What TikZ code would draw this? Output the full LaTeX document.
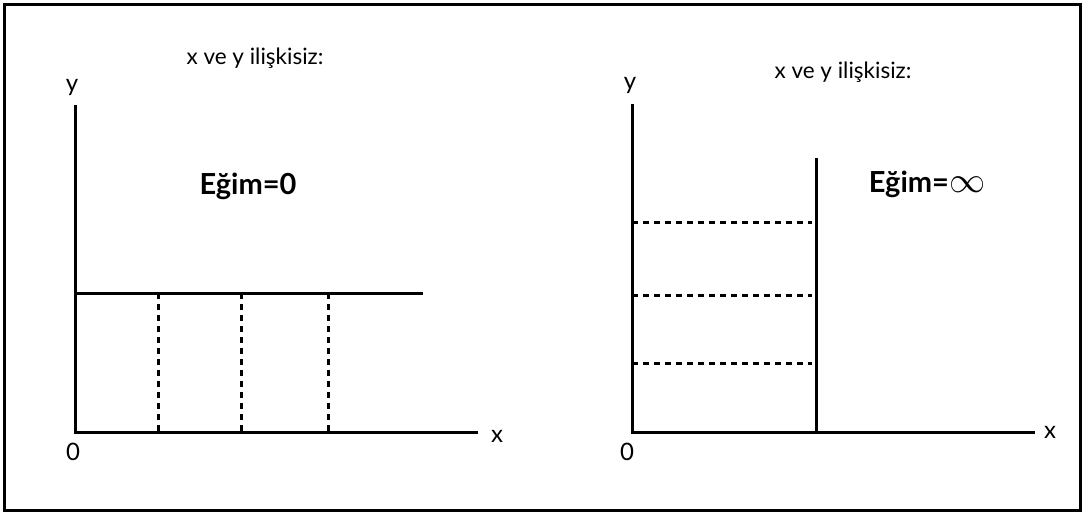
\documentclass[tikz,border=0pt]{standalone}
\usepackage{amsmath,amssymb}
\usepackage{graphicx}
\usepackage{fontspec}
\setmainfont{Lato}
\usepackage{tikz}
\usetikzlibrary{arrows.meta,calc}

\tikzset{
  axis/.style={line width=3pt},
  dashline/.style={line width=3pt,dash pattern=on 6pt off 5pt},
  lbl/.style={font=\fontsize{24}{28}\selectfont,inner sep=0pt},
  ttl/.style={font=\fontsize{22.5}{26}\selectfont,inner sep=0pt},
  slope/.style={font=\fontsize{29}{33}\selectfont\bfseries,inner sep=0pt},
}

\begin{document}
\begin{tikzpicture}[x=1pt,y=-1pt]
    % Frame
    \useasboundingbox (0,0) rectangle (1084,514);
    \draw[line width=3pt] (4,4) rectangle (1080,510);

    % Left: axes
    \coordinate (o1) at (75,432);
    \coordinate (y1) at (75,105);
    \coordinate (x1) at (478,432);
    \draw[axis] (y1) -- (o1) -- (x1);
    \node[lbl] (ly1) at (72,87) {y};
    \node[lbl] (lx1) at (497,436) {x};
    \node[lbl] (lo1) at (73,452) {0};

    % Left: horizontal line, slope 0
    \coordinate (h1) at (75,293);
    \coordinate (h2) at (423,293);
    \draw[axis] (h1) -- (h2);
    \foreach \xx/\nm in {158/a,241/b,328/c}{
      \coordinate (t\nm) at (\xx,293);
      \coordinate (b\nm) at (\xx,432);
      \draw[dashline] (t\nm) -- (b\nm);
    }
    \node[ttl] (title1) at (255,58) {x ve y ilişkisiz:};
    \node[slope] (eg1) at (248,186) {Eğim=0};

    % Right: axes
    \coordinate (o2) at (632,432);
    \coordinate (y2) at (632,104);
    \coordinate (x2) at (1035,432);
    \draw[axis] (y2) -- (o2) -- (x2);
    \node[lbl] (ly2) at (630,85) {y};
    \node[lbl] (lx2) at (1050,432) {x};
    \node[lbl] (lo2) at (627,452) {0};

    % Right: vertical line, slope infinite
    \coordinate (v1) at (816,158);
    \coordinate (v2) at (816,432);
    \draw[axis] (v1) -- (v2);
    \foreach \yy/\nm in {222/d,295/e,363/f}{
      \coordinate (l\nm) at (632,\yy);
      \coordinate (r\nm) at (812,\yy);
      \draw[dashline] (l\nm) -- (r\nm);
    }
    \node[ttl] (title2) at (843,72) {x ve y ilişkisiz:};
    \node[slope] (eg2) at (927,184) {Eğim=\scalebox{1.45}{$\infty$}};
\end{tikzpicture}
\end{document}
